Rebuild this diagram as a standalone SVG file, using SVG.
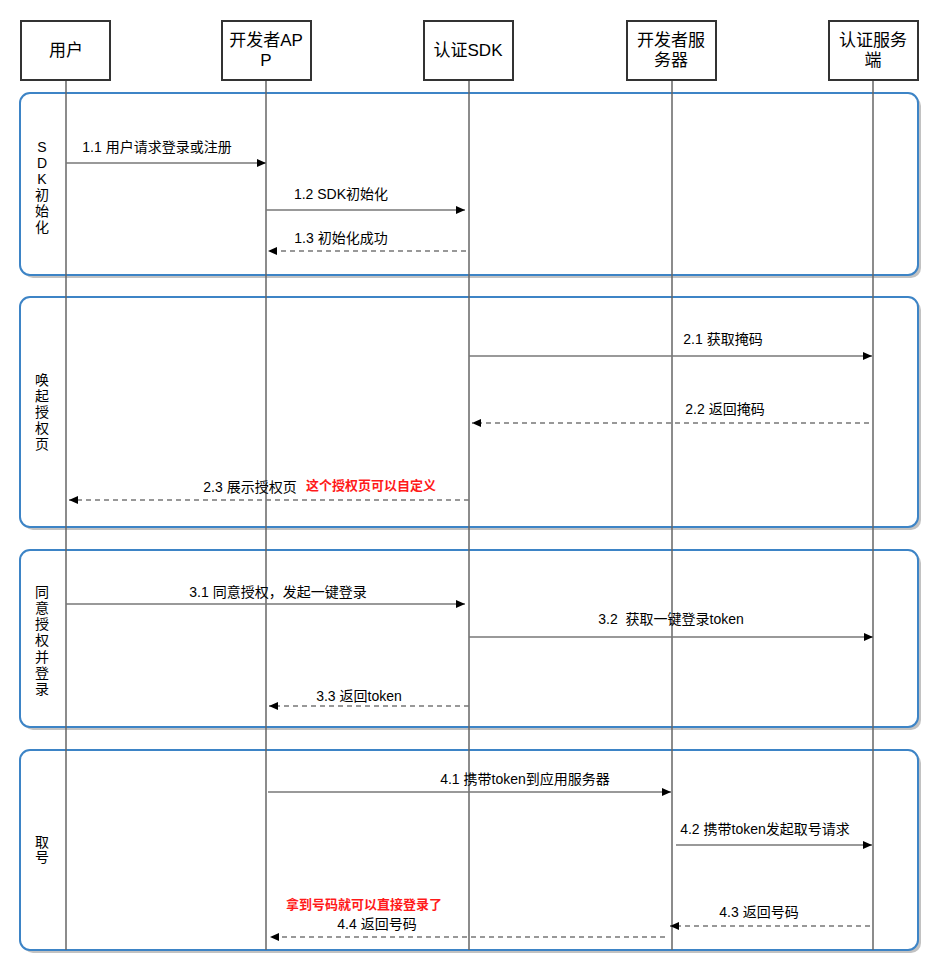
<svg xmlns="http://www.w3.org/2000/svg" width="939" height="974" viewBox="0 0 939 974">
<style>
text{font-family:"Liberation Sans","Noto Sans CJK SC",sans-serif;fill:#000}
.hd{font-size:17px;text-anchor:middle}
.lb{font-size:14px;text-anchor:middle}
.sec{font-size:14px;text-anchor:middle}
.red{font-size:13px;font-weight:bold;fill:#ff1a1a;text-anchor:middle}
.box{fill:#fff;stroke:#333;stroke-width:2}
.secbox{fill:#fff;stroke:#3d84c6;stroke-width:2}
.shadow{fill:#c2c2c2}
.life{stroke:#666;stroke-width:1.5}
.msg{stroke:#777;stroke-width:1.5;fill:none;marker-end:url(#ah)}
.ret{stroke:#777;stroke-width:1.5;fill:none;stroke-dasharray:5 4;marker-end:url(#ah)}
</style>
<defs>
<marker id="ah" markerUnits="userSpaceOnUse" markerWidth="10" markerHeight="10" viewBox="0 0 10 10" refX="9" refY="5" orient="auto">
<path d="M0,1 L9,5 L0,9 Z" fill="#000"/>
</marker>
</defs>
<rect width="939" height="974" fill="#fff"/>
<g id="sections">
<g id="sec1"><rect class="shadow" x="23" y="96" width="898" height="182" rx="10"/><rect class="secbox" x="20" y="93" width="898" height="182" rx="10"/>
<text class="sec" x="42" y="152">S</text><text class="sec" x="42" y="168">D</text><text class="sec" x="42" y="184">K</text><text class="sec" x="42" y="200">初</text><text class="sec" x="42" y="216">始</text><text class="sec" x="42" y="232">化</text></g>
<g id="sec2"><rect class="shadow" x="23" y="300" width="898" height="230" rx="10"/><rect class="secbox" x="20" y="297" width="898" height="230" rx="10"/>
<text class="sec" x="42" y="385">唤</text><text class="sec" x="42" y="401">起</text><text class="sec" x="42" y="417">授</text><text class="sec" x="42" y="433">权</text><text class="sec" x="42" y="449">页</text></g>
<g id="sec3"><rect class="shadow" x="23" y="553" width="898" height="177" rx="10"/><rect class="secbox" x="20" y="550" width="898" height="177" rx="10"/>
<text class="sec" x="42" y="597">同</text><text class="sec" x="42" y="613">意</text><text class="sec" x="42" y="629">授</text><text class="sec" x="42" y="645">权</text><text class="sec" x="42" y="662">并</text><text class="sec" x="42" y="678">登</text><text class="sec" x="42" y="694">录</text></g>
<g id="sec4"><rect class="shadow" x="23" y="753" width="898" height="200" rx="10"/><rect class="secbox" x="20" y="750" width="898" height="200" rx="10"/>
<text class="sec" x="42" y="847">取</text><text class="sec" x="42" y="862">号</text></g>
</g>
<g id="lifelines">
<line class="life" x1="66" y1="80" x2="66" y2="950"/>
<line class="life" x1="266" y1="80" x2="266" y2="950"/>
<line class="life" x1="469" y1="80" x2="469" y2="950"/>
<line class="life" x1="672" y1="80" x2="672" y2="950"/>
<line class="life" x1="873" y1="80" x2="873" y2="950"/>
</g>
<g id="user"><rect class="box" x="21" y="21" width="89" height="59"/><text class="hd" x="66" y="56">用户</text></g>
<g id="app"><rect class="box" x="222" y="21" width="89" height="59"/><text class="hd" x="266" y="46">开发者AP</text><text class="hd" x="266" y="66">P</text></g>
<g id="sdk"><rect class="box" x="424" y="21" width="89" height="59"/><text class="hd" x="468" y="56">认证SDK</text></g>
<g id="devserver"><rect class="box" x="627" y="21" width="89" height="59"/><text class="hd" x="671" y="46">开发者服</text><text class="hd" x="671" y="66">务器</text></g>
<g id="authserver"><rect class="box" x="829" y="21" width="89" height="59"/><text class="hd" x="873" y="46">认证服务</text><text class="hd" x="873" y="66">端</text></g>
<g id="connectors">
<line class="msg" x1="66" y1="163" x2="266" y2="163"/>
<line class="msg" x1="266" y1="210" x2="465" y2="210"/>
<line class="ret" x1="466" y1="251" x2="268" y2="251"/>
<line class="msg" x1="469" y1="356" x2="872" y2="356"/>
<line class="ret" x1="869" y1="423" x2="472" y2="423"/>
<line class="ret" x1="469" y1="500" x2="69" y2="500"/>
<line class="msg" x1="66" y1="604" x2="465" y2="604"/>
<line class="msg" x1="469" y1="637" x2="873" y2="637"/>
<line class="ret" x1="469" y1="706" x2="269" y2="706"/>
<line class="msg" x1="268" y1="792" x2="671" y2="792"/>
<line class="msg" x1="676" y1="845" x2="872" y2="845"/>
<line class="ret" x1="870" y1="926" x2="670" y2="926"/>
<line class="ret" x1="665" y1="937" x2="270" y2="937"/>
</g>
<g id="labels">
<text class="lb" x="157" y="152">1.1 用户请求登录或注册</text>
<text class="lb" x="341" y="199">1.2 SDK初始化</text>
<text class="lb" x="341" y="243">1.3 初始化成功</text>
<text class="lb" x="723" y="344">2.1 获取掩码</text>
<text class="lb" x="725" y="414">2.2 返回掩码</text>
<text class="lb" x="250" y="492">2.3 展示授权页</text>
<text class="red" x="371" y="490">这个授权页可以自定义</text>
<text class="lb" x="278" y="597">3.1 同意授权，发起一键登录</text>
<text class="lb" x="671" y="624" xml:space="preserve">3.2  获取一键登录token</text>
<text class="lb" x="359" y="701">3.3 返回token</text>
<text class="lb" x="525" y="784">4.1 携带token到应用服务器</text>
<text class="lb" x="765" y="834">4.2 携带token发起取号请求</text>
<text class="lb" x="759" y="917">4.3 返回号码</text>
<text class="red" x="364" y="909">拿到号码就可以直接登录了</text>
<text class="lb" x="377" y="929">4.4 返回号码</text>
</g>
</svg>
